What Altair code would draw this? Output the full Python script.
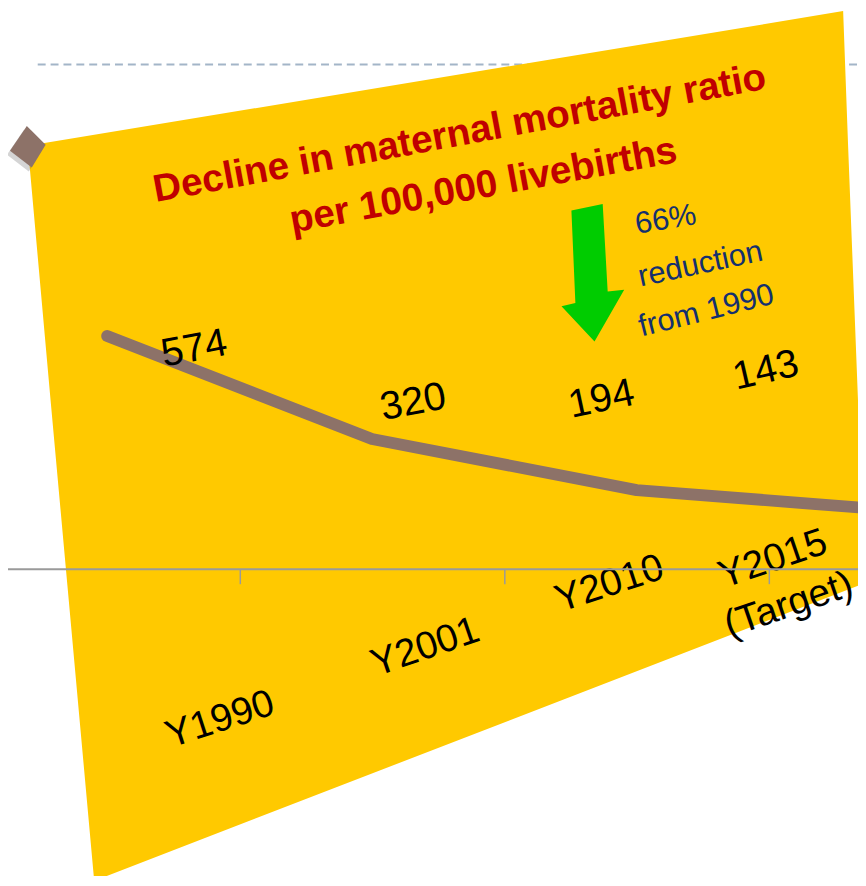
import math
import altair as alt
import pandas as pd

# ---------------- data ----------------
years = ["Y1990", "Y2001", "Y2010", "Y2015 (Target)"]
mmr = [574, 320, 194, 143]
value_text = ["574", "320", "194", "143"]
year_text = [["Y1990"], ["Y2001"], ["Y2010"], ["Y2015", "(Target)"]]
title_lines = ["Decline in maternal mortality ratio", "per 100,000 livebirths"]
note_lines = ["66%", "reduction", "from 1990"]

# ---------------- layout (screen pixels) ----------------
W, H, PAD_B = 858, 562, 306
ORIGIN = 8
Y_MAX = 1372.7
BAND_RANGE = [-33.5, 1035.5]

FONT = "Liberation Sans, Arial, sans-serif"
YELLOW = "#FFC900"
BROWN = "#8D7268"
RED = "#C00000"
NAVY = "#14306E"
GREEN = "#00CC00"
GRAY = "#9A9A9A"

# outline of the tilted yellow sheet, as a horizontal area
sheet_y = [7, 143, 400, 587, 885]
sheet_x = [851, 28, 51, 68, 95]
sheet_x2 = [851, 856, 866, 866, 95]

# label placement: (centre x, centre y, angle)
val_pos = [(196, 348, -11), (417, 402, -11), (607, 399, -12), (773, 370, -13)]
year_pos = [(222, 722, -18), (429, 649, -19), (615, 585, -18), (780, 560, -19)]
title_pos = [(466, 142.5, -10.5), (490, 195, -10.4)]
note_pos = [(672, 218, -9), (707, 263, -12), (713, 310, -14)]

ARROW = ("M-0.304,-0.910L0.147,-1.004L0.219,0.257L0.457,0.233L0.029,0.981"
         "L-0.447,0.471L-0.247,0.424Z")
ARROW_C, ARROW_SIZE = (598, 272), 140 ** 2
DIAMOND = "M-0.045,-0.955L0.818,-0.091L0.182,0.955L-0.818,0.182Z"
DIAMOND_C, DIAMOND_SIZE = (28, 144), 44 ** 2

# ---------------- scales ----------------
pix_x = alt.Scale(domain=[ORIGIN, ORIGIN + W], range=[0, W])
pix_y = alt.Scale(domain=[ORIGIN, ORIGIN + H], range=[0, H])
band_x = alt.Scale(domain=years, range=BAND_RANGE, paddingInner=0, paddingOuter=0)
val_y = alt.Scale(domain=[0, Y_MAX], nice=False)

x_axis = alt.Axis(title=None, labels=False, grid=False, domainColor=GRAY, domainWidth=2,
                  tickColor=GRAY, tickWidth=1.5, tickSize=15, tickBand="extent", zindex=1)


def px_enc(**kw):
    return dict(x=alt.X("px:Q", scale=pix_x, axis=None), y=alt.Y("py:Q", scale=pix_y, axis=None), **kw)


# ---------------- decoration layers (screen coordinates) ----------------
dashed = alt.Chart(pd.DataFrame({"px": [38], "px2": [866], "py": [61]})).mark_rule(
    color="#A3B5C8", strokeWidth=2, strokeDash=[8, 5]
).encode(**px_enc(x2="px2:Q"))

sheet = alt.Chart(pd.DataFrame({"py": sheet_y, "px": sheet_x, "px2": sheet_x2})).mark_area(
    orient="horizontal", color=YELLOW, opacity=1
).encode(x=alt.X("px:Q", scale=pix_x, axis=None), x2="px2:Q",
         y=alt.Y("py:Q", scale=pix_y, axis=None, sort=None))

shadow = alt.Chart(pd.DataFrame({"px": [DIAMOND_C[0] - 3], "py": [DIAMOND_C[1] + 4]})).mark_point(
    shape=DIAMOND, size=DIAMOND_SIZE, filled=True, fill="#555555", opacity=0.25, strokeWidth=0
).encode(**px_enc())

diamond = alt.Chart(pd.DataFrame({"px": [DIAMOND_C[0]], "py": [DIAMOND_C[1]]})).mark_point(
    shape=DIAMOND, size=DIAMOND_SIZE, filled=True, fill=BROWN, opacity=1, strokeWidth=0
).encode(**px_enc())

arrow = alt.Chart(pd.DataFrame({"px": [ARROW_C[0]], "py": [ARROW_C[1]]})).mark_point(
    shape=ARROW, size=ARROW_SIZE, filled=True, fill=GREEN, opacity=1, strokeWidth=0
).encode(**px_enc())

title_df = pd.DataFrame({"t": title_lines, "px": [p[0] for p in title_pos],
                         "py": [p[1] for p in title_pos], "ang": [p[2] for p in title_pos]})
title = alt.Chart(title_df).mark_text(
    font=FONT, fontSize=39, fontWeight="bold", color=RED, align="center", baseline="alphabetic"
).encode(**px_enc(text="t:N", angle=alt.Angle("ang:Q", scale=None)))

note_df = pd.DataFrame({"t": note_lines, "px": [p[0] for p in note_pos],
                        "py": [p[1] for p in note_pos], "ang": [p[2] for p in note_pos]})
note = alt.Chart(note_df).mark_text(
    font=FONT, fontSize=31, color=NAVY, align="center", baseline="middle"
).encode(**px_enc(text="t:N", angle=alt.Angle("ang:Q", scale=None)))

pix_group = alt.layer(dashed, sheet, shadow, diamond, arrow, title, note)

# ---------------- data layers (chart scales) ----------------
df = pd.DataFrame({"year": years, "mmr": mmr, "zero": [0] * len(years)})

line = alt.Chart(df).mark_line(color=BROWN, strokeWidth=12, strokeCap="round", strokeJoin="round").encode(
    x=alt.X("year:N", scale=band_x, axis=x_axis, sort=years),
    y=alt.Y("mmr:Q", scale=val_y, axis=None),
)

step = (BAND_RANGE[1] - BAND_RANGE[0]) / len(years)


def anchor(i, v):
    ax = ORIGIN + BAND_RANGE[0] + step * (i + 0.5)
    ay = ORIGIN + H - v * H / Y_MAX
    return ax, ay


def rot(ox, oy, a_deg):
    a = math.radians(a_deg)
    return ox * math.cos(a) + oy * math.sin(a), -ox * math.sin(a) + oy * math.cos(a)


labels = []
for i in range(len(years)):
    ax, ay = anchor(i, mmr[i])
    cx, cy, a = val_pos[i]
    dx, dy = rot(cx - ax, cy - ay, a)
    labels.append(
        alt.Chart(df.iloc[[i]]).mark_text(
            text=value_text[i], font=FONT, fontSize=40, color="black", align="center",
            baseline="middle", angle=a % 360, dx=dx, dy=dy
        ).encode(x=alt.X("year:N", scale=band_x, axis=x_axis, sort=years),
                 y=alt.Y("mmr:Q", scale=val_y, axis=None))
    )
    ax, ay = anchor(i, 0)
    cx, cy, a = year_pos[i]
    dx, dy = rot(cx - ax, cy - ay, a)
    txt = year_text[i] if len(year_text[i]) > 1 else year_text[i][0]
    labels.append(
        alt.Chart(df.iloc[[i]]).mark_text(
            text=txt, font=FONT, fontSize=39, color="black", align="center",
            baseline="middle", angle=a % 360, dx=dx, dy=dy, lineHeight=49
        ).encode(x=alt.X("year:N", scale=band_x, axis=x_axis, sort=years),
                 y=alt.Y("zero:Q", scale=val_y, axis=None))
    )

data_group = alt.layer(line, *labels)

chart = alt.layer(pix_group, data_group).resolve_scale(x="independent", y="independent").properties(
    width=W, height=H,
    padding={"left": 0, "top": 0, "right": 0, "bottom": PAD_B},
    autosize=alt.AutoSizeParams(type="none"),
    background="white",
).configure_view(strokeWidth=0)

chart.save("out.html", embed_options={"renderer": "svg", "actions": False})
